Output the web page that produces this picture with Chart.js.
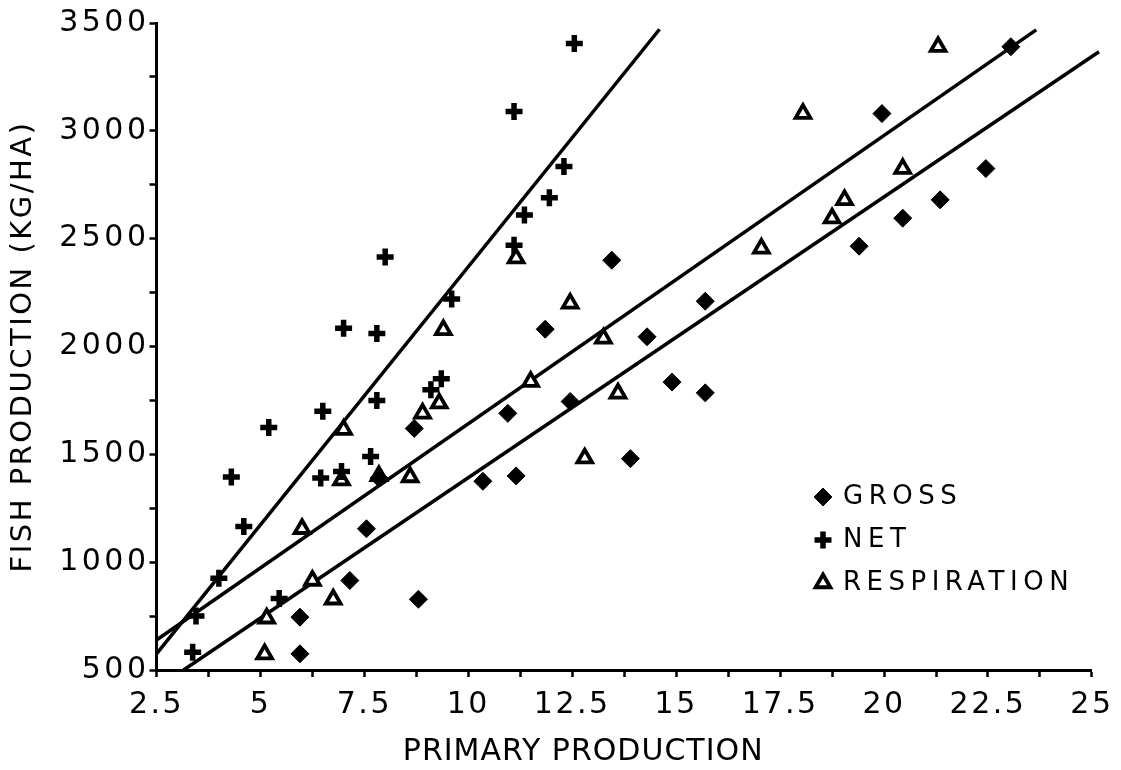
<!DOCTYPE html>
<html lang="en">
<head>
<meta charset="utf-8"/>
<title>Fish production vs primary production</title>
<script src="https://cdn.jsdelivr.net/npm/chart.js@4.4.1/dist/chart.umd.min.js"></script>
<style>
  html, body { margin: 0; padding: 0; background: #fff; }
  #wrap { width: 1121px; height: 770px; }
</style>
</head>
<body>
<div id="wrap"><canvas id="chart" width="1121" height="770"></canvas></div>
<script>
// points: primary production (x) vs fish production kg/ha (y)
const grossX = [5.95, 5.95, 7.15, 7.55, 7.85, 8.7, 8.8, 10.35, 10.95, 11.15, 11.85, 12.45,
                13.45, 13.9, 14.3, 14.9, 15.7, 15.7, 19.4, 19.95, 20.45, 21.35, 22.45, 23.05];
const grossY = [575, 745, 915, 1155, 1390, 1620, 828, 1375, 1690, 1400, 2080, 1745,
                2400, 1480, 2045, 1835, 1785, 2210, 2465, 3080, 2595, 2680, 2825, 3390];

const netX = [3.37, 3.45, 4.0, 4.3, 4.6, 5.2, 5.45, 6.45, 6.5, 6.95, 7.0, 7.65,
              7.8, 7.8, 8.0, 9.1, 9.35, 9.6, 11.1, 11.1, 11.35, 11.95, 12.3, 12.55];
const netY = [582, 750, 925, 1395, 1165, 1625, 832, 1390, 1700, 1420, 2085, 1490,
              1750, 2060, 2415, 1800, 1850, 2220, 3090, 2470, 2610, 2690, 2835, 3405];

const respX = [5.1, 5.15, 6.0, 6.25, 6.75, 6.95, 7.0, 7.85, 8.6, 8.9, 9.3, 9.4,
               11.15, 11.5, 12.45, 12.8, 13.25, 13.6, 17.05, 18.05, 18.75, 19.05, 20.45, 21.3];
const respY = [574, 740, 1155, 915, 828, 1380, 1615, 1400, 1395, 1690, 1737, 2077,
               2410, 1837, 2200, 1482, 2038, 1783, 2455, 3080, 2595, 2680, 2825, 3390];

// fitted lines, end points as drawn
const steepFitX = [2.5, 14.6];
const steepFitY = [575, 3471];
const upperFitX = [2.5, 23.66];
const upperFitY = [639, 3468];
const lowerFitX = [3.15, 25.17];
const lowerFitY = [500, 3367];

const xTicks = [2.5, 5, 7.5, 10, 12.5, 15, 17.5, 20, 22.5, 25];
const yTicks = [500, 1000, 1500, 2000, 2500, 3000, 3500];

const pts = (xs, ys) => xs.map((x, i) => ({ x: x, y: ys[i] }));

// letter spacing / title shift per axis
const AXIS_TEXT = {
  x: { ticks: 2.5, title: 1, dx: -41, dy: 0 },
  y: { ticks: 3.5, title: 2.5, dx: 0, dy: 0 }
};

class SpacedLinearScale extends Chart.LinearScale {
  drawLabels(area) {
    const s = AXIS_TEXT[this.id] || {};
    this.ctx.save();
    this.ctx.letterSpacing = (s.ticks || 0) + 'px';
    super.drawLabels(area);
    this.ctx.restore();
  }
  drawTitle() {
    const s = AXIS_TEXT[this.id] || {};
    this.ctx.save();
    this.ctx.letterSpacing = (s.title || 0) + 'px';
    this.ctx.translate(s.dx || 0, s.dy || 0);
    super.drawTitle();
    this.ctx.restore();
  }
}
SpacedLinearScale.id = 'spacedLinear';
SpacedLinearScale.defaults = Chart.LinearScale.defaults;
Chart.register(SpacedLinearScale);

const LEGEND = { markerX: 823, textX: 843, top: 497, rowGap: 43 };

const markerLegend = {
  id: 'markerLegend',
  afterDatasetsDraw(chart) {
    const ctx = chart.ctx;
    let row = 0;
    ctx.save();
    chart.data.datasets.forEach(ds => {
      if (!ds.label) return;
      const y = LEGEND.top + row * LEGEND.rowGap;
      ctx.fillStyle = ds.backgroundColor;
      ctx.strokeStyle = ds.borderColor;
      ctx.lineWidth = ds.borderWidth;
      Chart.helpers.drawPoint(ctx, {
        pointStyle: ds.pointStyle, radius: ds.pointRadius,
        borderWidth: ds.borderWidth, rotation: 0
      }, LEGEND.markerX, y);
      ctx.font = '26px "DejaVu Sans"';
      ctx.letterSpacing = '5.5px';
      ctx.textBaseline = 'middle';
      ctx.textAlign = 'left';
      ctx.fillStyle = '#000';
      ctx.fillText(ds.label, LEGEND.textX, y);
      row++;
    });
    ctx.restore();
  }
};

const fitLine = (xs, ys) => ({
  type: 'scatter',
  data: pts(xs, ys),
  showLine: true,
  borderColor: '#000',
  borderWidth: 3.5,
  pointRadius: 0,
  clip: 12,
  order: 5
});

const onTick = (list) => (v) => list.some(t => Math.abs(t - v) < 1e-6) ? String(v) : '';

new Chart(document.getElementById('chart'), {
  type: 'scatter',
  data: {
    datasets: [
      fitLine(steepFitX, steepFitY),
      fitLine(upperFitX, upperFitY),
      fitLine(lowerFitX, lowerFitY),
      {
        label: 'GROSS',
        data: pts(grossX, grossY),
        pointStyle: 'rectRot',
        pointRadius: 9,
        backgroundColor: '#000',
        borderColor: '#000',
        borderWidth: 1,
        order: 1
      },
      {
        label: 'NET',
        data: pts(netX, netY),
        pointStyle: 'cross',
        pointRadius: 8.5,
        backgroundColor: '#000',
        borderColor: '#000',
        borderWidth: 5.5,
        order: 1
      },
      {
        label: 'RESPIRATION',
        data: pts(respX, respY),
        pointStyle: 'triangle',
        pointRadius: 8.5,
        backgroundColor: '#fff',
        borderColor: '#000',
        borderWidth: 3.8,
        order: 1
      }
    ]
  },
  options: {
    responsive: false,
    animation: false,
    events: [],
    layout: { padding: { top: 23, right: 25, left: 0, bottom: 0 } },
    plugins: { legend: { display: false }, tooltip: { enabled: false } },
    scales: {
      x: {
        type: 'spacedLinear',
        position: 'bottom',
        min: 2.5,
        max: 25,
        afterFit: (scale) => { scale.height = 100; },
        border: { display: true, color: '#000', width: 3 },
        grid: { drawOnChartArea: false, drawTicks: true, tickLength: 7, tickWidth: 2.5, tickColor: '#000' },
        ticks: {
          stepSize: 1.25,
          autoSkip: false,
          maxRotation: 0,
          padding: 10,
          color: '#000',
          font: { family: '"DejaVu Sans"', size: 30 },
          callback: onTick(xTicks)
        },
        title: {
          display: true,
          text: 'PRIMARY PRODUCTION',
          color: '#000',
          font: { family: '"DejaVu Sans"', size: 30 },
          padding: { top: 0, bottom: 0 }
        }
      },
      y: {
        type: 'spacedLinear',
        position: 'left',
        min: 500,
        max: 3500,
        afterFit: (scale) => { scale.width = 156.5; },
        border: { display: true, color: '#000', width: 3 },
        grid: { drawOnChartArea: false, drawTicks: true, tickLength: 7, tickWidth: 2.5, tickColor: '#000' },
        ticks: {
          stepSize: 250,
          autoSkip: false,
          padding: 0,
          color: '#000',
          font: { family: '"DejaVu Sans"', size: 30 },
          callback: onTick(yTicks)
        },
        title: {
          display: true,
          text: 'FISH PRODUCTION (KG/HA)',
          color: '#000',
          font: { family: '"DejaVu Sans"', size: 29 },
          padding: { top: 6, bottom: 0 }
        }
      }
    }
  },
  plugins: [markerLegend]
});
</script>
</body>
</html>
